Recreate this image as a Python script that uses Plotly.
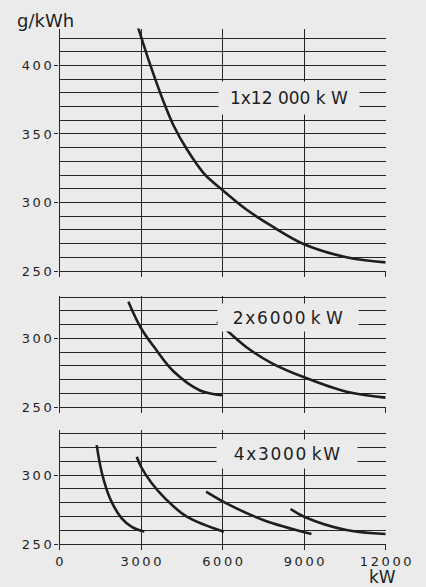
import plotly.graph_objects as go

BG = "#ebebeb"
INK = "#1e1e1e"
GRID = "#262626"
FONT = "DejaVu Sans"

x_ticks = [0, 3000, 6000, 9000, 12000]
x_ticklabels = ["0", "3000", "6000", "9000", "12000"]
y_unit = "g/kWh"
x_unit = "kW"

# Panel 1: 1 x 12 000 kW
p1_label = "1x12 000 k W"
p1_yticks = [250, 300, 350, 400]
p1_x = [2890, 3000, 3330, 3800, 4200, 4680, 5300, 5650, 6000, 6900, 7800, 9000, 10560, 12000]
p1_y = [427.8, 421.0, 401.0, 375.0, 356.0, 339.0, 321.5, 314.8, 309.0, 294.5, 282.9, 269.5, 260.0, 256.3]

# Panel 2: 2 x 6000 kW
p2_label = "2x6000 k W"
p2_yticks = [250, 300]
p2a_x = [2533, 3000, 3515, 4190, 5170, 5650, 6000]
p2a_y = [326.6, 307.3, 292.7, 276.0, 262.0, 259.5, 258.5]
p2b_x = [5800, 6000, 6880, 7800, 9000, 10560, 12000]
p2b_y = [312.0, 308.5, 293.5, 282.0, 271.6, 261.1, 256.8]

# Panel 3: 4 x 3000 kW
p3_label = "4x3000 kW"
p3_yticks = [250, 300]
p3a_x = [1369, 1553, 1859, 2289, 2657, 3122]
p3a_y = [321.7, 302.0, 283.0, 268.6, 262.5, 259.0]
p3b_x = [2842, 3000, 3394, 3883, 4682, 6044]
p3b_y = [313.3, 306.0, 294.0, 283.1, 269.8, 258.9]
p3c_x = [5393, 6018, 7491, 9269]
p3c_y = [287.9, 280.7, 267.4, 257.2]
p3d_x = [8497, 9000, 10557, 12000]
p3d_y = [275.4, 269.8, 260.1, 257.2]

W, H = 426, 587
x_dom = [59.5 / W, 385.7 / W]
dom1 = [1 - 271 / H, 1 - 28.5 / H]
dom2 = [1 - 407 / H, 1 - 295.7 / H]
dom3 = [1 - 544 / H, 1 - 429.5 / H]

fig = go.Figure()

line = dict(color=INK, width=2.6, shape="spline", smoothing=1.0)
series = [
    (p1_x, p1_y, "x", "y"),
    (p2a_x, p2a_y, "x2", "y2"),
    (p2b_x, p2b_y, "x2", "y2"),
    (p3a_x, p3a_y, "x3", "y3"),
    (p3b_x, p3b_y, "x3", "y3"),
    (p3c_x, p3c_y, "x3", "y3"),
    (p3d_x, p3d_y, "x3", "y3"),
]
for xs, ys, xa, ya in series:
    fig.add_trace(go.Scatter(x=xs, y=ys, mode="lines", line=line,
                             xaxis=xa, yaxis=ya, showlegend=False,
                             hoverinfo="skip"))

def thin(s):
    return "\u2009".join(s)

def hair(s):
    return " ".join("\u200a".join(w) for w in s.split(" "))

GW = 1.4

def xaxis(anchor, show_labels):
    return dict(
        domain=x_dom, range=[0, 12000], anchor=anchor, automargin=False,
        tickvals=x_ticks, ticktext=[thin(t) for t in x_ticklabels],
        showticklabels=show_labels,
        ticks="outside", ticklen=5, tickwidth=GW, tickcolor=GRID,
        showgrid=True, gridcolor=GRID, gridwidth=GW,
        showline=True, linecolor=GRID, linewidth=GW,
        zeroline=False,
        tickfont=dict(family=FONT, size=13, color=INK),
    )

def yaxis(anchor, dom, rng, tv):
    return dict(
        domain=dom, range=rng, anchor=anchor, automargin=False,
        tickvals=tv, ticktext=[thin(str(v)) for v in tv],
        ticks="outside", ticklen=4, tickwidth=GW, tickcolor=GRID,
        showgrid=True, gridcolor=GRID, gridwidth=GW,
        minor=dict(dtick=10, showgrid=True, gridcolor=GRID, gridwidth=GW, ticks=""),
        showline=True, linecolor=GRID, linewidth=GW,
        zeroline=False,
        tickfont=dict(family=FONT, size=13, color=INK),
    )

fig.update_layout(
    width=W, height=H,
    margin=dict(l=0, r=0, t=0, b=0, autoexpand=False),
    paper_bgcolor=BG, plot_bgcolor=BG,
    xaxis=xaxis("y", False),
    xaxis2=xaxis("y2", False),
    xaxis3=xaxis("y3", True),
    yaxis=yaxis("x", dom1, [250, 427], p1_yticks),
    yaxis2=yaxis("x2", dom2, [250, 331], p2_yticks),
    yaxis3=yaxis("x3", dom3, [250, 333], p3_yticks),
)

labels = [
    (p1_label, "x", "y", 8448, 376.6, 30),
    (hair(p2_label), "x2", "y2", 8411, 315.1, 25),
    (hair(p3_label), "x3", "y3", 8374, 315.4, 26),
]
for txt, xr, yr, xv, yv, h in labels:
    fig.add_annotation(text=txt, x=xv, y=yv, xref=xr, yref=yr,
                       showarrow=False, bgcolor=BG, width=138, height=h,
                       xanchor="center", yanchor="middle",
                       font=dict(family=FONT, size=17, color=INK))

fig.add_annotation(text=y_unit, xref="paper", yref="paper",
                   x=15 / W, y=1 - 20 / H, xanchor="left", yanchor="middle",
                   showarrow=False, font=dict(family=FONT, size=18, color=INK))
fig.add_annotation(text=x_unit, xref="paper", yref="paper",
                   x=382 / W, y=1 - 577 / H, xanchor="center", yanchor="middle",
                   showarrow=False, font=dict(family=FONT, size=17, color=INK))

fig.write_html(
    "out.html",
    config={"displayModeBar": False},
    post_script="document.body.style.margin='0';"
                "document.body.style.background='#ebebeb';"
                "document.body.style.overflow='hidden';",
)
